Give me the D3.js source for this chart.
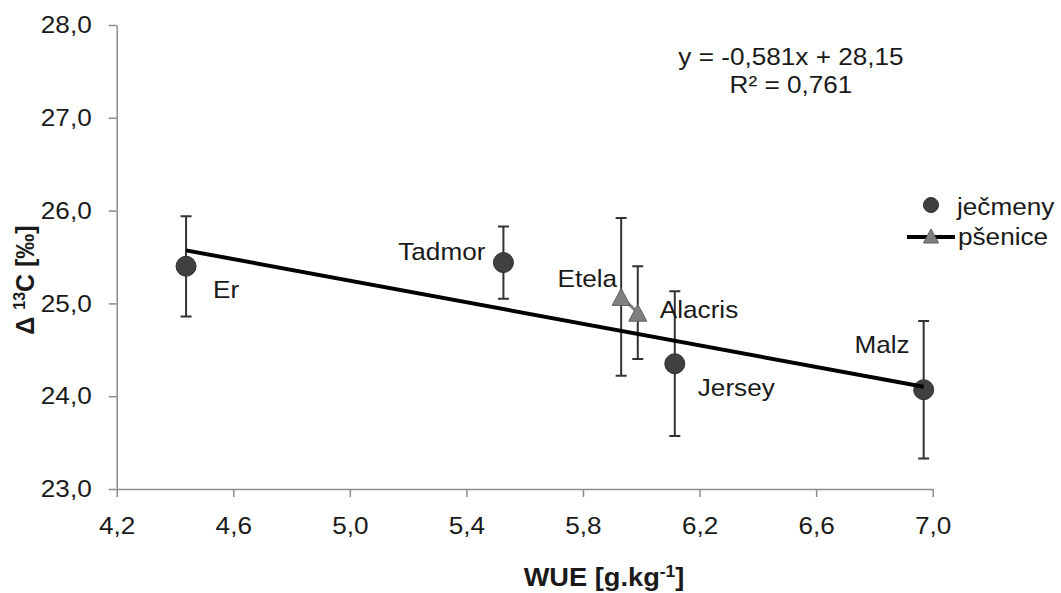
<!DOCTYPE html>
<html>
<head>
<meta charset="utf-8">
<script src="https://cdn.jsdelivr.net/npm/d3@7"></script>
<style>
  html, body { margin: 0; padding: 0; background: #fff; }
  svg { display: block; font-family: "Liberation Sans", Arial, sans-serif; }
</style>
</head>
<body>
<script>
// barley (ječmeny) cultivars
const barleyNames = ["Er", "Tadmor", "Jersey", "Malz"];
const barleyWue = [4.438, 5.527, 6.115, 6.969];
const barleyD13C = [25.40, 25.44, 24.35, 24.07];
const barleyErr = [0.54, 0.39, 0.78, 0.74];

// wheat (pšenice) cultivars
const wheatNames = ["Etela", "Alacris"];
const wheatWue = [5.931, 5.988];
const wheatD13C = [25.07, 24.90];
const wheatErr = [0.85, 0.50];

// linear trend over all points
const trendSlope = -0.581;
const trendIntercept = 28.15;
const trendR2 = 0.761;

const xTicks = [4.2, 4.6, 5.0, 5.4, 5.8, 6.2, 6.6, 7.0];
const yTicks = [23, 24, 25, 26, 27, 28];

const W = 1061, H = 593;
const SX = 1.09; // text is rendered slightly wide
const comma = (v, d) => v.toFixed(d).replace(".", ",");

const svg = d3.select("body").append("svg")
    .attr("width", W)
    .attr("height", H);

const x = d3.scaleLinear().domain([4.2, 7.0]).range([116.7, 932.7]);
const y = d3.scaleLinear().domain([23, 28]).range([489, 25]);

const axisColor = "#8c8c8c";
const textColor = "#1a1a1a";

// axes
const gx = svg.append("g")
    .attr("transform", `translate(0,${y(23)})`)
    .call(d3.axisBottom(x).tickValues(xTicks).tickSize(8).tickSizeOuter(0)
        .tickFormat(d => comma(d, 1)));
gx.selectAll("text")
    .attr("y", 45).attr("dy", 0)
    .attr("transform", `scale(${SX},1)`);

const gy = svg.append("g")
    .attr("transform", `translate(${x(4.2)},0)`)
    .call(d3.axisLeft(y).tickValues(yTicks).tickSize(8).tickSizeOuter(0)
        .tickFormat(d => comma(d, 1)));
gy.selectAll("text")
    .attr("x", -25 / SX)
    .attr("transform", `scale(${SX},1)`);

svg.selectAll(".domain, .tick line")
    .attr("stroke", axisColor)
    .attr("stroke-width", 1.5);
svg.selectAll(".tick text")
    .attr("fill", textColor)
    .attr("font-size", 24)
    .attr("font-family", "Liberation Sans, Arial, sans-serif");

// axis titles
const xTitle = svg.append("text")
    .attr("transform", `translate(604,586) scale(${SX},1)`)
    .attr("text-anchor", "middle")
    .attr("font-size", 25)
    .attr("font-weight", "bold")
    .attr("fill", textColor);
xTitle.append("tspan").text("WUE [g.kg");
xTitle.append("tspan").attr("font-size", 16).attr("dy", -9).text("-1");
xTitle.append("tspan").attr("dy", 9).text("]");

const yTitle = svg.append("text")
    .attr("transform", "translate(34,280) rotate(-90)")
    .attr("text-anchor", "middle")
    .attr("font-size", 25)
    .attr("font-weight", "bold")
    .attr("fill", textColor);
yTitle.append("tspan").text("Δ ");
yTitle.append("tspan").attr("font-size", 16).attr("dy", -9).text("13");
yTitle.append("tspan").attr("dy", 9).text("C [‰]");

// data tables
const barley = barleyNames.map((n, i) => ({ name: n, wue: barleyWue[i], d: barleyD13C[i], e: barleyErr[i] }));
const wheat = wheatNames.map((n, i) => ({ name: n, wue: wheatWue[i], d: wheatD13C[i], e: wheatErr[i] }));
const all = barley.concat(wheat);

// error bars
const cap = 5.5;
const eb = svg.append("g")
    .attr("stroke", "#333")
    .attr("stroke-width", 2)
    .attr("fill", "none");
eb.selectAll("path")
    .data(all)
    .join("path")
    .attr("d", p => {
        const cx = x(p.wue), t = y(p.d + p.e), b = y(p.d - p.e);
        return `M${cx - cap},${t}H${cx + cap}M${cx},${t}V${b}M${cx - cap},${b}H${cx + cap}`;
    });

// wheat connecting line
svg.append("path")
    .datum(wheat)
    .attr("fill", "none")
    .attr("stroke", "#808080")
    .attr("stroke-width", 3)
    .attr("d", d3.line().x(p => x(p.wue)).y(p => y(p.d)));

// markers
const triangle = (w, h) => `M0,${-h / 2}L${w / 2},${h / 2}L${-w / 2},${h / 2}Z`;

svg.append("g").selectAll("circle")
    .data(barley)
    .join("circle")
    .attr("cx", p => x(p.wue))
    .attr("cy", p => y(p.d))
    .attr("r", 10)
    .attr("fill", "#404040")
    .attr("stroke", "#2e2e2e")
    .attr("stroke-width", 1);

svg.append("g").selectAll("path")
    .data(wheat)
    .join("path")
    .attr("transform", p => `translate(${x(p.wue)},${y(p.d)})`)
    .attr("d", triangle(18, 17))
    .attr("fill", "#808080")
    .attr("stroke", "#5e5e5e")
    .attr("stroke-width", 1);

// trendline across the x extent of the data
const xExt = d3.extent(all, p => p.wue);
svg.append("path")
    .datum(xExt)
    .attr("fill", "none")
    .attr("stroke", "#000")
    .attr("stroke-width", 4)
    .attr("d", d3.line().x(v => x(v)).y(v => y(trendSlope * v + trendIntercept)));

// point labels
const labelPos = {
    Er: [27, 32, "start"],
    Tadmor: [-18, -3, "end"],
    Etela: [-4, -10, "end"],
    Alacris: [22, 5, "start"],
    Jersey: [23, 32, "start"],
    Malz: [-14, -37, "end"]
};
svg.append("g").selectAll("text")
    .data(all)
    .join("text")
    .attr("transform", p => {
        const o = labelPos[p.name];
        return `translate(${x(p.wue) + o[0]},${y(p.d) + o[1]}) scale(${SX},1)`;
    })
    .attr("text-anchor", p => labelPos[p.name][2])
    .attr("font-size", 24)
    .attr("fill", textColor)
    .text(p => p.name);

// regression equation
svg.append("text")
    .attr("transform", `translate(791,65) scale(${SX},1)`)
    .attr("text-anchor", "middle")
    .attr("font-size", 24)
    .attr("fill", textColor)
    .text(`y = ${comma(trendSlope, 3)}x + ${comma(trendIntercept, 2)}`);
svg.append("text")
    .attr("transform", `translate(791,93) scale(${SX},1)`)
    .attr("text-anchor", "middle")
    .attr("font-size", 24)
    .attr("fill", textColor)
    .text(`R² = ${comma(trendR2, 3)}`);

// legend
const lg = svg.append("g");
lg.append("circle")
    .attr("cx", 931).attr("cy", 205).attr("r", 7.5)
    .attr("fill", "#404040").attr("stroke", "#2e2e2e");
lg.append("text")
    .attr("transform", `translate(957,215) scale(${SX},1)`)
    .attr("font-size", 24).attr("fill", textColor)
    .text("ječmeny");
lg.append("line")
    .attr("x1", 907).attr("x2", 955).attr("y1", 237).attr("y2", 237)
    .attr("stroke", "#000").attr("stroke-width", 4);
lg.append("path")
    .attr("transform", "translate(931,236)")
    .attr("d", triangle(15, 14))
    .attr("fill", "#808080").attr("stroke", "#5e5e5e");
lg.append("text")
    .attr("transform", `translate(958,245) scale(${SX},1)`)
    .attr("font-size", 24).attr("fill", textColor)
    .text("pšenice");
</script>
</body>
</html>
